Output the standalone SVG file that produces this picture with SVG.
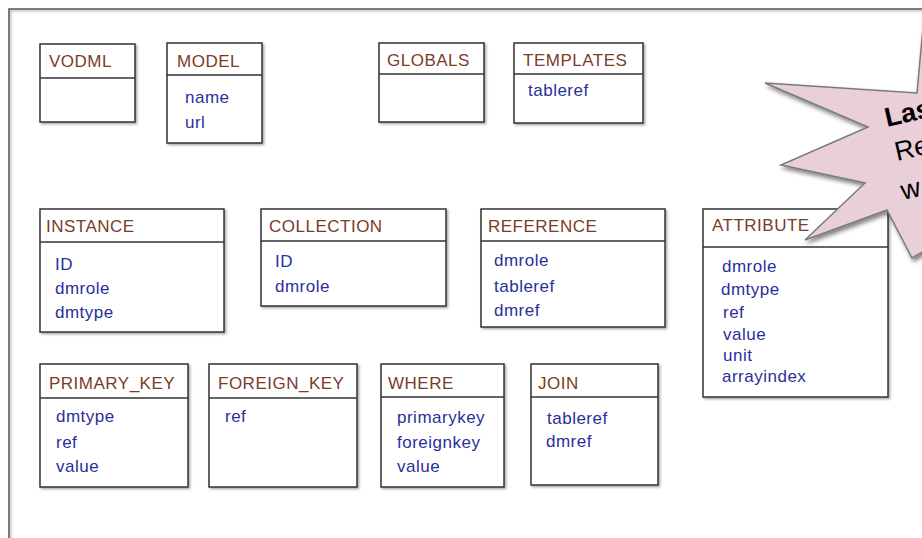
<svg xmlns="http://www.w3.org/2000/svg" width="922" height="538" viewBox="0 0 922 538">
<defs>
<filter id="sh" x="-10%" y="-10%" width="130%" height="130%">
<feDropShadow dx="1.5" dy="1.5" stdDeviation="1.2" flood-color="#000" flood-opacity="0.35"/>
</filter>
<filter id="starsh" x="-20%" y="-20%" width="150%" height="150%">
<feDropShadow dx="2" dy="3" stdDeviation="2" flood-color="#000" flood-opacity="0.5"/>
</filter>
</defs>
<style>
.box{fill:#fff;stroke:#333;stroke-width:1.5;filter:url(#sh)}
.div{stroke:#333;stroke-width:1.3}
.t{font-family:"Liberation Sans",Arial,sans-serif;font-size:17px;letter-spacing:0.5px;fill:#7b3b2a}
.f{font-family:"Liberation Sans",Arial,sans-serif;font-size:17px;letter-spacing:0.5px;fill:#2a2f9a}
.st{font-family:"Liberation Sans",Arial,sans-serif;font-size:27px;fill:#000}
</style>
<rect width="922" height="538" fill="#fff"/>
<g id="frame">
<rect x="9" y="9" width="940" height="560" fill="none" stroke="#555" stroke-width="1.5" filter="url(#sh)"/>
</g>
<g id="connectors"></g>
<g id="VODML">
<rect class="box" x="40" y="44" width="95" height="78"/>
<line class="div" x1="40" y1="78" x2="135" y2="78"/>
<text class="t" x="49" y="67">VODML</text>
</g>
<g id="MODEL">
<rect class="box" x="167" y="43" width="95" height="100"/>
<line class="div" x1="167" y1="75" x2="262" y2="75"/>
<text class="t" x="177" y="67">MODEL</text>
<text class="f" x="185" y="103">name</text>
<text class="f" x="185" y="128">url</text>
</g>
<g id="GLOBALS">
<rect class="box" x="379" y="43" width="105" height="79"/>
<line class="div" x1="379" y1="74" x2="484" y2="74"/>
<text class="t" x="387" y="66">GLOBALS</text>
</g>
<g id="TEMPLATES">
<rect class="box" x="514" y="43" width="129" height="80"/>
<line class="div" x1="514" y1="74" x2="643" y2="74"/>
<text class="t" x="523" y="66">TEMPLATES</text>
<text class="f" x="528" y="96">tableref</text>
</g>
<g id="INSTANCE">
<rect class="box" x="40" y="209" width="184" height="123"/>
<line class="div" x1="40" y1="242" x2="224" y2="242"/>
<text class="t" x="46" y="232">INSTANCE</text>
<text class="f" x="55" y="270">ID</text>
<text class="f" x="55" y="294">dmrole</text>
<text class="f" x="55" y="318">dmtype</text>
</g>
<g id="COLLECTION">
<rect class="box" x="261" y="209" width="185" height="97"/>
<line class="div" x1="261" y1="241" x2="446" y2="241"/>
<text class="t" x="269" y="232">COLLECTION</text>
<text class="f" x="275" y="267">ID</text>
<text class="f" x="275" y="292">dmrole</text>
</g>
<g id="REFERENCE">
<rect class="box" x="481" y="209" width="184" height="118"/>
<line class="div" x1="481" y1="241" x2="665" y2="241"/>
<text class="t" x="488" y="232">REFERENCE</text>
<text class="f" x="494" y="266">dmrole</text>
<text class="f" x="494" y="292">tableref</text>
<text class="f" x="494" y="316">dmref</text>
</g>
<g id="ATTRIBUTE">
<rect class="box" x="703" y="209" width="185" height="188"/>
<line class="div" x1="703" y1="247" x2="888" y2="247"/>
<text class="t" x="712" y="231">ATTRIBUTE</text>
<text class="f" x="722" y="272">dmrole</text>
<text class="f" x="721" y="295">dmtype</text>
<text class="f" x="723" y="318">ref</text>
<text class="f" x="723" y="340">value</text>
<text class="f" x="723" y="361">unit</text>
<text class="f" x="722" y="382">arrayindex</text>
</g>
<g id="PRIMARY_KEY">
<rect class="box" x="40" y="364" width="148" height="123"/>
<line class="div" x1="40" y1="398" x2="188" y2="398"/>
<text class="t" x="49" y="389">PRIMARY_KEY</text>
<text class="f" x="56" y="422">dmtype</text>
<text class="f" x="56" y="448">ref</text>
<text class="f" x="56" y="472">value</text>
</g>
<g id="FOREIGN_KEY">
<rect class="box" x="209" y="364" width="148" height="123"/>
<line class="div" x1="209" y1="398" x2="357" y2="398"/>
<text class="t" x="218" y="389">FOREIGN_KEY</text>
<text class="f" x="225" y="422">ref</text>
</g>
<g id="WHERE">
<rect class="box" x="381" y="364" width="123" height="123"/>
<line class="div" x1="381" y1="397" x2="504" y2="397"/>
<text class="t" x="388" y="389">WHERE</text>
<text class="f" x="397" y="423">primarykey</text>
<text class="f" x="397" y="448">foreignkey</text>
<text class="f" x="397" y="472">value</text>
</g>
<g id="JOIN">
<rect class="box" x="531" y="364" width="127" height="121"/>
<line class="div" x1="531" y1="397" x2="658" y2="397"/>
<text class="t" x="538" y="389">JOIN</text>
<text class="f" x="547" y="424">tableref</text>
<text class="f" x="546" y="447">dmref</text>
</g>
<g id="callout">
<polygon points="926,-5 917,93 765,83 868,127 781,165 865,183 805,240 887,210 912,258 960,230 990,80" fill="#e9cfd8" stroke="#7a7a7a" stroke-width="1.5" stroke-linejoin="miter" filter="url(#starsh)"/>
<text class="st" font-weight="bold" x="887" y="127" transform="rotate(-13 887 127)">Las</text>
<text class="st" x="897" y="161" transform="rotate(-13 897 161)">Re</text>
<text class="st" x="903" y="200" transform="rotate(-13 903 200)">w</text>
</g>
</svg>
